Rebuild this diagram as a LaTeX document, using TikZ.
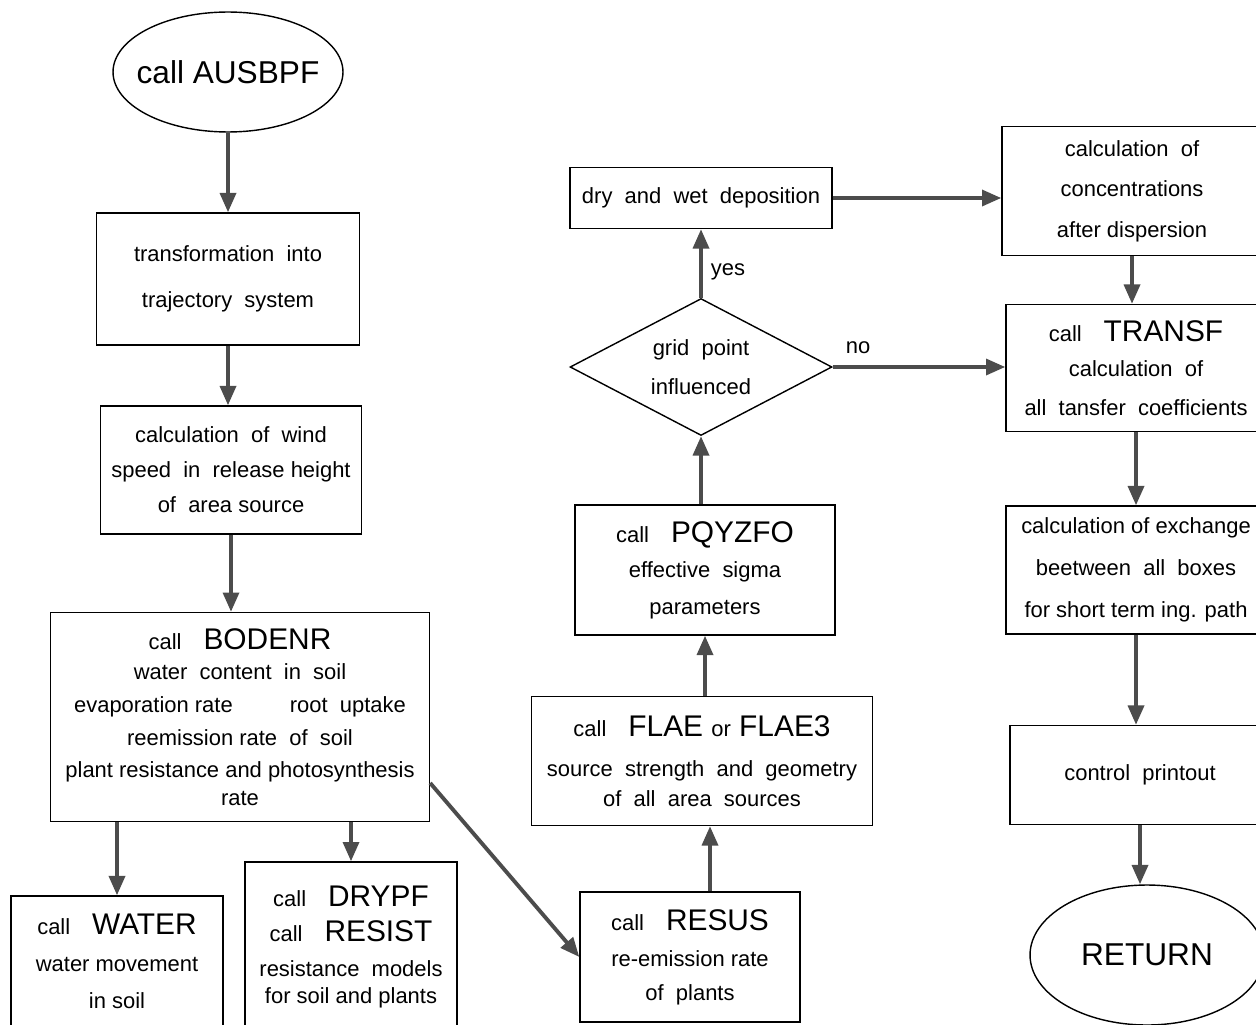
\documentclass[tikz,border=0pt]{standalone}
\usepackage{fontspec}
\setmainfont{Liberation Sans}
\usetikzlibrary{shapes.geometric, arrows.meta}

\tikzset{
  box/.style = {draw, thick, align=center, inner sep=2pt},
  flow/.style = {draw=black!70, line width=2.2pt, -{Triangle[length=11pt, width=9pt]}},
}
\newcommand{\callname}[1]{call\quad{\fontsize{17}{18}\selectfont #1}}

\begin{document}
\begin{tikzpicture}[x=0.02cm, y=-0.02cm, font=\fontsize{12.5}{15}\selectfont]
\clip (0,0) rectangle (1256,1024);
% left column
\node[ellipse, draw, thick, inner sep=0pt, minimum width=4.6cm, minimum height=2.4cm,
      font=\fontsize{18}{20}\selectfont] (ausbpf) at (228,72) {\makebox[0pt]{call AUSBPF}};
\node[box, minimum width=5.26cm, minimum height=2.64cm] (traj) at (228,279)
  {transformation\ \ into\\[11pt] trajectory\ \ system};
\node[box, minimum width=5.22cm, minimum height=2.56cm] (wind) at (231,470)
  {calculation\ \ of\ \ wind\\[5pt] speed\ \ in\ \ release height\\[5pt] of\ \ area source};
\node[box, minimum width=7.58cm, minimum height=4.18cm] (bod) at (240,717)
  {\callname{BODENR}\\[2pt] water\ \ content\ \ in\ \ soil\\[4pt]
   evaporation rate\hspace{2.6em}root\ \ uptake\\[4pt] reemission rate\ \ of\ \ soil\\[3pt]
   plant resistance and photosynthesis\\[1pt] rate};
\node[box, minimum width=4.24cm, minimum height=2.6cm] (wat) at (117,961)
  {\callname{WATER}\\[6pt] water movement\\[6pt] in soil};
\node[box, minimum width=4.24cm, minimum height=3.4cm] (drypf) at (351,947)
  {\callname{DRYPF}\\[5pt] \callname{RESIST}\\[5pt] resistance\ \ models\\ for soil and plants};
% middle column
\node[box, minimum width=4.4cm, minimum height=2.6cm] (res) at (690,957)
  {\callname{RESUS}\\[6pt] re-emission rate\\[4pt] of\ \ plants};
\node[box, minimum width=6.82cm, minimum height=2.58cm] (flae) at (702,761)
  {\callname{FLAE {\fontsize{12.5}{15}\selectfont or} FLAE3}\\[8pt]
   source\ \ strength\ \ and\ \ geometry\\[2pt] of\ \ all\ \ area\ \ sources};
\node[box, minimum width=5.2cm, minimum height=2.6cm] (pq) at (705,570)
  {\callname{PQYZFO}\\[5pt] effective\ \ sigma\\[6pt] parameters};
\node[diamond, draw, thick, align=center, inner sep=0pt, aspect=1.9,
      minimum width=5.24cm, minimum height=2.74cm] (dia) at (701,367)
  {grid\ \ point\\[7pt] influenced};
\node[box, minimum width=5.24cm, minimum height=1.22cm] (dep) at (701,198)
  {dry\ \ and\ \ wet\ \ deposition};
% right column
\node[box, minimum width=5.2cm, minimum height=2.58cm] (conc) at (1132,191)
  {calculation\ \ of\\[8pt] concentrations\\[8pt] after dispersion};
\node[box, minimum width=5.2cm, minimum height=2.54cm] (tra) at (1136,368)
  {\callname{TRANSF}\\[5pt] calculation\ \ of\\[7pt] all\ \ tansfer\ \ coefficients};
\node[box, minimum width=5.2cm, minimum height=2.56cm] (exc) at (1136,570)
  {calculation of exchange\\[9pt] beetween\ \ all\ \ boxes\\[9pt] for short term ing. path};
\node[box, minimum width=5.2cm, minimum height=1.98cm] (ctl) at (1140,775)
  {control\ \ printout};
\node[ellipse, draw, thick, minimum width=4.68cm, minimum height=2.8cm,
      font=\fontsize{18}{20}\selectfont] (ret) at (1147,955) {RETURN};
% labels
\node (yes) at (728,272) {yes};
\node (no) at (858,348) {no};
% connectors
\draw[flow] (ausbpf.south) -- (ausbpf.south |- traj.north);
\draw[flow] (traj.south) -- (traj.south |- wind.north);
\draw[flow] (wind.south) -- (wind.south |- bod.north);
\draw[flow] (wat.north |- bod.south) -- (wat.north);
\draw[flow] (drypf.north |- bod.south) -- (drypf.north);
\draw[flow] ([yshift=-1.32cm]bod.east) -- (res.west);
\draw[flow] ([xshift=0.4cm]res.north) -- ([xshift=0.4cm]res.north |- flae.south);
\draw[flow] (pq.south |- flae.north) -- (pq.south);
\draw[flow] (dia.south |- pq.north) -- (dia.south);
\draw[flow] (dia.north) -- (dep.south);
\draw[flow] (dia.east) -- (dia.east -| tra.west);
\draw[flow] (dep.east) -- (dep.east -| conc.west);
\draw[flow] (conc.south) -- (conc.south |- tra.north);
\draw[flow] (tra.south) -- (tra.south |- exc.north);
\draw[flow] (exc.south) -- (exc.south |- ctl.north);
\draw[flow] (ctl.south) -- (ctl.south |- ret.north);
\end{tikzpicture}
\end{document}
